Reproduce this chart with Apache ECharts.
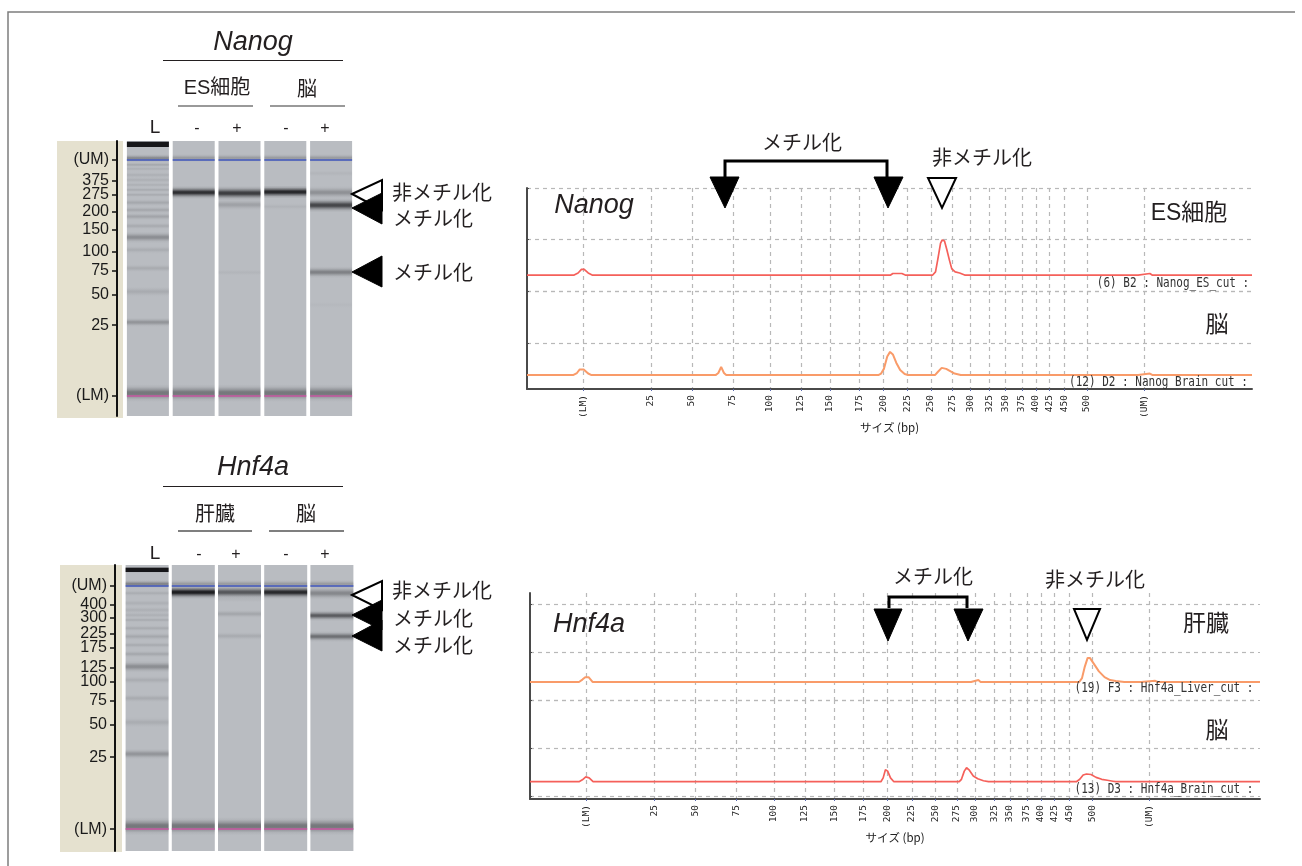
<!DOCTYPE html>
<html><head><meta charset="utf-8">
<style>html,body{margin:0;padding:0;background:#fff}#c{width:1302px;height:866px}</style>
<script src="https://cdn.jsdelivr.net/npm/echarts@6/dist/echarts.min.js"></script>
</head><body><div id="c"></div>
<script>
// ---------- data: capillary gel ----------
const laneLabels = ['L', '-', '+', '-', '+'];
const nanogGelTicks = [[100,'(UM)'],[91.2,'375'],[85.3,'275'],[78,'200'],[70.3,'150'],[61,'100'],[53,'75'],[42.8,'50'],[30,'25'],[0,'(LM)']];
const hnf4aGelTicks = [[100,'(UM)'],[92.2,'400'],[86.8,'300'],[80.2,'225'],[74.5,'175'],[66.3,'125'],[60.5,'100'],[52.8,'75'],[42.8,'50'],[29.6,'25'],[0,'(LM)']];
// band: [lane, migration, strength, breadth]
const nanogBands = [
 [0,106.6,1,2.6],[0,100.6,.15,3],[0,97.9,.12,2],[0,96.2,.07,2],[0,93.6,.07,2.5],[0,91.5,.07,2.5],[0,89.4,.07,2],[0,87.3,.1,2],[0,85.2,.1,2],[0,81.9,.12,3],[0,78.8,.12,3],[0,76,.14,3.2],[0,72,.1,3],[0,67.2,.28,5],[0,61.9,.09,3.5],[0,54.1,.1,3.5],[0,44.2,.1,4.5],[0,31.2,.24,4],
 [1,86.2,.85,5.5],[2,85.9,.78,6],[2,81,.16,5],[2,52.3,.04,3],[3,86.4,.92,5.5],[3,80.2,.05,3],
 [4,86.2,.26,5.5],[4,80.8,.72,6],[4,52.4,.36,5],[4,94.3,.04,3],[4,38.6,.02,3]
];
const hnf4aBands = [
 [0,106.6,1,2.2],[0,100.8,.18,3],[0,97,.09,2.5],[0,92.9,.07,3],[0,90.1,.07,3],[0,88,.07,2.5],[0,86,.1,2],[0,82.6,.1,2.5],[0,79.2,.12,3],[0,75.7,.1,2.5],[0,72,.12,3],[0,66.8,.28,5],[0,61.3,.09,3.5],[0,53.8,.1,3.5],[0,43.9,.09,4.5],[0,30.9,.24,4.5],
 [1,97.4,.97,5.5],[2,97.4,.62,5.5],[2,94.5,.04,3],[2,88.5,.13,3.5],[2,79.4,.1,3.5],[3,97.4,.9,5.5],
 [4,97,.32,5.5],[4,87.8,.58,4.5],[4,79.2,.46,4.5]
];
const commonBands = [[100.8,.2,3.5],[1.2,.42,7.5]];
const upperMarker = 100, lowerMarker = 0;

// ---------- data: electropherogram ----------
const sizeTicks = [[0,'(LM)'],[12.1,'25'],[19.4,'50'],[26.7,'75'],[33.3,'100'],[38.8,'125'],[44,'150'],[49.2,'175'],[53.5,'200'],[57.8,'225'],[62,'250'],[65.8,'275'],[69,'300'],[72.4,'325'],[75.2,'350'],[78.2,'375'],[80.7,'400'],[83.1,'425'],[85.8,'450'],[89.8,'500'],[100,'(UM)']];
const nanogEsTrace = [[-10,0],[-1.6,0],[-.9,4],[-.3,11],[.2,11],[.9,4],[1.6,0],[54.8,0],[55.2,3],[56.8,3],[57.4,0],[62.3,0],[62.8,6],[63.2,30],[63.7,62],[64,68],[64.4,66],[64.8,50],[65.3,28],[65.7,12],[66.3,6],[67.1,4],[68,0],[98.9,0],[99.2,3],[101,3],[101.4,0],[119.2,0]];
const nanogBrainTrace = [[-10,0],[-1.8,0],[-1.1,4],[-.6,11],[.1,11],[.9,3],[1.5,0],[23.6,0],[24.1,4],[24.6,16],[25.1,4],[25.5,0],[52.6,0],[53.1,3],[53.6,12],[54.2,36],[54.7,45],[55.2,40],[55.8,24],[56.5,10],[57.3,2],[57.9,0],[62.7,0],[63.2,6],[63.9,14],[64.7,12],[65.5,7],[66.2,3],[67.3,0],[98.9,0],[99.2,3],[101,3],[101.5,0],[119.2,0]];
const hnf4aLiverTrace = [[-10,0],[-1.3,0],[-.7,5],[-.2,10],[.4,10],[1.1,0],[53.4,0],[53.7,2],[54,0],[68.3,0],[68.6,4],[69.6,4],[70,0],[87.5,0],[88,8],[88.5,32],[89,50],[89.4,50],[90.2,36],[91,22],[92,10],[93,4],[94,2],[95.5,0],[98.5,0],[98.8,2.5],[101,2.5],[101.4,0],[119.6,0]];
const hnf4aBrainTrace = [[-10,0],[-1.3,0],[-.7,4],[-.1,10],[.5,8],[1.2,0],[52.3,0],[52.7,8],[53.1,25],[53.5,22],[54,8],[54.6,0],[66.2,0],[66.6,5],[67.1,22],[67.5,29],[68,24],[68.7,12],[69.5,6],[70.5,2],[71.4,0],[87,0],[87.6,5],[88.2,14],[88.8,16],[89.6,15],[90.5,9],[91.5,5],[92.5,3],[93.5,1],[94,0],[119.6,0]];

// ---------- layout helpers ----------
const SANS = '"Liberation Sans",Arial,sans-serif', JP = '"Noto Sans CJK JP",sans-serif', MONO = '"DejaVu Sans Mono",monospace';
const MIX = '"Liberation Sans","Noto Sans CJK JP",sans-serif';
const INK = '#231f20';
const chart = echarts.init(document.getElementById('c'), null, {renderer:'canvas'});
const grids = [], xAxes = [], yAxes = [], series = [], graphics = [];

function addGel(cfg){
  const g = grids.length;
  grids.push({left:cfg.left, top:cfg.top, width:cfg.width, height:cfg.height});
  xAxes.push({gridIndex:g, type:'category', data:laneLabels, show:false});
  const map = new Map(cfg.ticks.map(t=>[t[0],t[1]]));
  const vals = cfg.ticks.map(t=>t[0]);
  yAxes.push({gridIndex:g, type:'value', min:cfg.ymin, max:cfg.ymax, offset:cfg.offset,
    axisLine:{show:true,onZero:false,lineStyle:{color:'#111',width:2}},
    axisTick:{show:true,length:5,customValues:vals,lineStyle:{color:'#111',width:1.5}},
    splitLine:{show:false},
    axisLabel:{show:true,customValues:vals,margin:8,color:'#1a1a1a',fontFamily:SANS,fontSize:16,formatter:v=>map.get(v)||''}});
  const laneW = cfg.laneW;
  series.push({type:'custom',xAxisIndex:g,yAxisIndex:g,silent:true,clip:false,z:1,
    data:laneLabels.map((_,i)=>[i]),
    renderItem(p,api){
      const c=api.coord([api.value(0),0]), t=api.coord([api.value(0),cfg.ymax])[1], b=api.coord([api.value(0),cfg.ymin])[1];
      return {type:'rect',shape:{x:c[0]-laneW/2,y:t,width:laneW,height:b-t},style:{fill:'#b9bcc1'}};
    }});
  const bands = cfg.bands.concat(laneLabels.flatMap((_,i)=>commonBands.map(b=>[i,b[0],b[1],b[2]])));
  series.push({type:'custom',xAxisIndex:g,yAxisIndex:g,silent:true,z:2,
    data:bands,
    renderItem(p,api){
      const lane=api.value(0),m=api.value(1),s=api.value(2),w=api.value(3);
      const c=api.coord([lane,m]),h=api.size([0,w])[1];
      const col=a=>`rgba(22,22,25,${a})`;
      const stops = s>=1
        ? [{offset:0,color:col(0)},{offset:.12,color:col(1)},{offset:.88,color:col(1)},{offset:1,color:col(0)}]
        : [{offset:0,color:col(0)},{offset:.15,color:col(s*.12)},{offset:.3,color:col(s*.5)},{offset:.42,color:col(s*.92)},{offset:.5,color:col(s)},{offset:.58,color:col(s*.92)},{offset:.7,color:col(s*.5)},{offset:.85,color:col(s*.12)},{offset:1,color:col(0)}];
      return {type:'rect',shape:{x:c[0]-laneW/2,y:c[1]-h/2,width:laneW,height:h},
        style:{fill:new echarts.graphic.LinearGradient(0,0,0,1,stops)}};
    }});
  series.push({type:'custom',xAxisIndex:g,yAxisIndex:g,silent:true,z:3,
    data:laneLabels.flatMap((_,i)=>[[i,upperMarker,0],[i,lowerMarker,1]]),
    renderItem(p,api){
      const c=api.coord([api.value(0),api.value(1)]),k=api.value(2);
      return {type:'rect',shape:{x:c[0]-laneW/2,y:c[1]-(k?.75:.75),width:laneW,height:1.5},style:{fill:k?'#c4559f':'#3f56bd'}};
    }});
}

function addTrace(cfg){
  const g = grids.length;
  grids.push({left:cfg.left, top:cfg.top, width:cfg.width, height:cfg.height});
  const vals = sizeTicks.map(t=>t[0]);
  const map = new Map(sizeTicks);
  xAxes.push({gridIndex:g,type:'value',min:-10,max:cfg.xmax,
    name:cfg.bottom?'サイズ (bp)':'',nameLocation:'middle',nameGap:cfg.nameGap,
    nameTextStyle:{color:'#222',fontFamily:JP,fontSize:11.5},
    axisLine:{show:cfg.bottom,onZero:false,lineStyle:{color:'#4a4a4a',width:2}},
    axisTick:{show:cfg.bottom,length:2,customValues:vals,lineStyle:{color:'#5a6ab0'}},
    axisLabel:{show:cfg.bottom,customValues:vals,rotate:90,margin:6,color:'#222',fontFamily:MONO,fontSize:9.5,formatter:v=>map.get(v)||''},
    splitLine:{show:true,lineStyle:{type:[4,4],color:'#b8b8b8',width:1.2}}});
  yAxes.push({gridIndex:g,type:'value',min:cfg.ymin,max:cfg.ymax,
    axisLine:{show:true,onZero:false,lineStyle:{color:'#4a4a4a',width:2}},
    axisTick:{show:true,inside:true,length:2,customValues:cfg.lines,lineStyle:{color:'#4a4a4a'}},
    axisLabel:{show:false,customValues:cfg.lines},
    splitLine:{show:true,lineStyle:{type:[4,4],color:'#b8b8b8',width:1.2}}});
  series.push({type:'line',name:cfg.name,xAxisIndex:g,yAxisIndex:g,data:cfg.data,showSymbol:false,silent:true,z:5,
    lineStyle:{color:cfg.color,width:cfg.lw},clip:true});
}

// ---------- panels ----------
addGel({left:125,top:141,width:229,height:275,ymin:-8.5,ymax:108,offset:8,laneW:42,ticks:nanogGelTicks,bands:nanogBands});
addGel({left:124,top:565,width:231,height:286,ymin:-9,ymax:108.6,offset:9,laneW:43,ticks:hnf4aGelTicks,bands:hnf4aBands});
addTrace({name:'Nanog_ES_cut',left:527,top:188,width:725,height:103,xmax:119.2,ymin:-31,ymax:169,lines:[-31,69,169],data:nanogEsTrace,color:'#f5605a',lw:1.7});
addTrace({name:'Nanog Brain cut',left:527,top:291,width:725,height:98,xmax:119.2,ymin:-27,ymax:163,lines:[62,163],data:nanogBrainTrace,color:'#f99b69',lw:2,bottom:true,nameGap:30});
addTrace({name:'Hnf4a_Liver_cut',left:530,top:593,width:730,height:107,xmax:119.6,ymin:-37.5,ymax:185,lines:[-37.5,62.5,162.5],data:hnf4aLiverTrace,color:'#f99b69',lw:2});
addTrace({name:'Hnf4a_Brain_cut',left:530,top:700,width:730,height:99,xmax:119.6,ymin:-36,ymax:170,lines:[-30,70,170],data:hnf4aBrainTrace,color:'#f5605a',lw:1.7,bottom:true,nameGap:30});

// ---------- annotations ----------
const T=(x,y,text,o={},s=1)=>graphics.push({type:'text',x,y,scaleY:s,z:20,style:Object.assign({text,fill:INK,fontFamily:JP,fontSize:20,align:'center',verticalAlign:'middle'},o)});
const L=(x1,y1,x2,y2,stroke='#231f20',lw=1)=>graphics.push({type:'line',z:20,shape:{x1,y1,x2,y2},style:{stroke,lineWidth:lw}});
const P=(pts,white)=>graphics.push({type:'polygon',z:white?19:21,shape:{points:pts},style:{fill:white?'#fff':'#000',stroke:'#000',lineWidth:white?2:1,lineJoin:'miter'}});
const R=(x,y,w,h,fill)=>graphics.push({type:'rect',z:-1,shape:{x,y,width:w,height:h},style:{fill}});
const ITAL={fontFamily:SANS,fontStyle:'italic',fontSize:27};
const BIG={fontFamily:MIX,fontSize:23};
const CODE={fontFamily:MONO,fontSize:11,fill:'#333'};
const M='メチル化',U='非メチル化';

graphics.push({type:'polyline',z:0,shape:{points:[[8,866],[8,12],[1295,12]]},style:{stroke:'#7d7d7d',lineWidth:1.5,fill:null}});
R(57,141,66,277,'#e5e1cf'); R(60,565,62,287,'#e5e1cf');

// Nanog gel
T(253,42,'Nanog',ITAL); L(163,60.5,343,60.5);
T(217,88,'ES細胞',{fontFamily:MIX}); T(307,88,'脳'); L(178,106,253,106,'#777',1.5); L(270,106,345,106,'#777',1.5);
[[155,laneLabels[0]],[197,laneLabels[1]],[237,laneLabels[2]],[286,laneLabels[3]],[325,laneLabels[4]]].forEach((d,i)=>T(d[0],i?129:128,d[1],{fontFamily:SANS,fontSize:i?16:19}));
P([[352,194],[382,180],[382,210]],true); P([[352,208],[382,193],[382,224]]); P([[352,272],[382,256],[382,287]]);
T(392,192,U,{align:'left'}); T(393,218,M,{align:'left'}); T(393,272,M,{align:'left'});

// Hnf4a gel
T(253,467,'Hnf4a',ITAL); L(163,486.5,343,486.5);
T(215,513,'肝臓'); T(306,513,'脳'); L(178,531,252,531,'#555',1.5); L(269,531,344,531,'#555',1.5);
[[155,laneLabels[0]],[199,laneLabels[1]],[236,laneLabels[2]],[286,laneLabels[3]],[325,laneLabels[4]]].forEach((d,i)=>T(d[0],i?555:554,d[1],{fontFamily:SANS,fontSize:i?16:19}));
P([[352,595],[382,581],[382,610]],true); P([[352,615],[382,600],[382,630]]); P([[352,636],[382,620],[382,651]]);
T(392,590,U,{align:'left'}); T(393,618,M,{align:'left'}); T(393,645,M,{align:'left'});

// Nanog trace annotations
graphics.push({type:'polyline',z:20,shape:{points:[[725,178],[725,161],[887,161],[887,178]]},style:{stroke:'#000',lineWidth:3,fill:null}});
P([[710,177],[739,177],[725,208]]); P([[874,177],[903,177],[888,208]]); P([[928,178],[956,178],[942,208]],true);
T(802,142,M); T(982,157,U); T(594,205,'Nanog',ITAL); T(1189,214,'ES細胞',BIG); T(1217,326,'脳',BIG);
T(1173,283,'(6) B2 : Nanog_ES_cut :',CODE,1.3);
T(1158.5,382,'(12) D2 : Nanog Brain cut :',CODE,1.3);

// Hnf4a trace annotations
graphics.push({type:'polyline',z:20,shape:{points:[[889,608],[889,597],[967,597],[967,608]]},style:{stroke:'#000',lineWidth:3,fill:null}});
P([[874,609],[902,609],[888,641]]); P([[954,609],[983,609],[968,641]]); P([[1074,609],[1100,609],[1087,640]],true);
T(933,576,M); T(1095,579,U); T(589,624,'Hnf4a',ITAL); T(1206,625,'肝臓',BIG); T(1217,732,'脳',BIG);
T(1164,688,'(19) F3 : Hnf4a_Liver_cut :',CODE,1.3);
T(1164,789,'(13) D3 : Hnf4a_Brain_cut :',CODE,1.3);

chart.setOption({animation:false,backgroundColor:'#fff',grid:grids,xAxis:xAxes,yAxis:yAxes,series,graphic:{elements:graphics}});
</script></body></html>
